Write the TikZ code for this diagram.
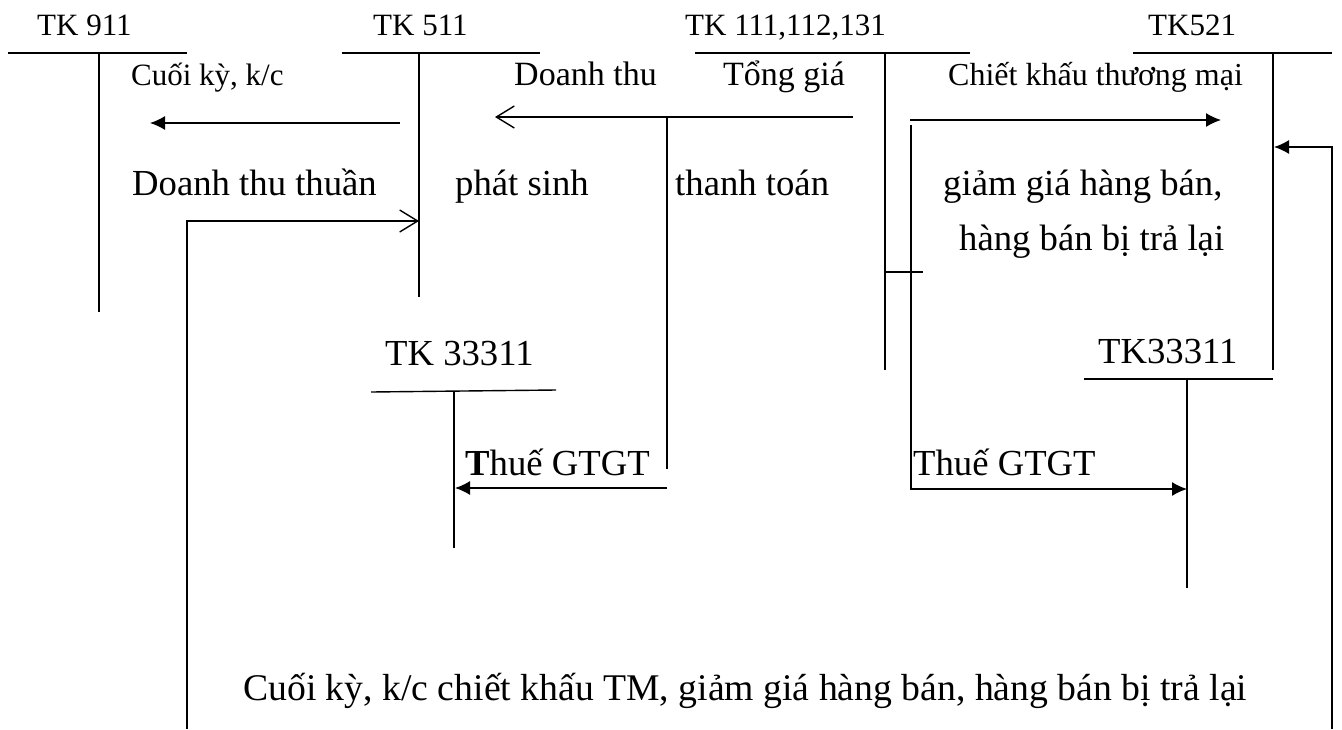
\documentclass[tikz,border=0pt]{standalone}
\usepackage{fontspec}
\setmainfont{Liberation Serif}
\usetikzlibrary{arrows.meta}
\begin{document}
\begin{tikzpicture}[x=1pt,y=-1pt,
  ln/.style={line width=1.4pt},
  fa/.style={ln,-{Latex[length=15pt,width=14pt]}},
  oa/.style={ln,-{Straight Barb[length=18pt,width=22pt,line width=1.4pt]}},
  txs/.style={anchor=base west,inner sep=0pt,font=\fontsize{31}{36}\selectfont},
  txm/.style={anchor=base west,inner sep=0pt,font=\fontsize{34}{40}\selectfont},
  txl/.style={anchor=base west,inner sep=0pt,font=\fontsize{36.7}{44}\selectfont}]
\useasboundingbox (0,0) rectangle (1342,729);

% account headings
\node[txs] (h911) at (37,35) {TK 911};
\node[txs] (h511) at (373,35) {TK 511};
\node[txs] (h111) at (685,35) {TK 111,112,131};
\node[txs] (h521) at (1148,35) {TK521};
\node[txl] (h333a) at (385,365) {TK 33311};
\node[txl] (h333b) at (1098,363) {TK33311};

% T-account bars
\coordinate (a911l) at (8,53);   \coordinate (a911r) at (187,53);
\coordinate (a911t) at (99,53);  \coordinate (a911b) at (99,312);
\coordinate (a511l) at (342,53); \coordinate (a511r) at (540,53);
\coordinate (a511t) at (419,53); \coordinate (a511b) at (419,297);
\coordinate (a111l) at (695,53); \coordinate (a111r) at (970,53);
\coordinate (a111t) at (885,53); \coordinate (a111b) at (885,370);
\coordinate (a521l) at (1133,53);\coordinate (a521r) at (1332,53);
\coordinate (a521t) at (1273,53);\coordinate (a521b) at (1273,370);
\coordinate (ava l) at (371,392);\coordinate (ava r) at (556,390);
\coordinate (avat) at (454,391); \coordinate (avab) at (454,548);
\coordinate (avb l) at (1084,379);\coordinate (avb r) at (1273,379);
\coordinate (avbt) at (1187,379);\coordinate (avbb) at (1187,588);

\foreach \a/\b in {a911l/a911r,a911t/a911b,a511l/a511r,a511t/a511b,
                   a111l/a111r,a111t/a111b,a521l/a521r,a521t/a521b,
                   ava l/ava r,avat/avab,avb l/avb r,avbt/avbb}
  \draw[ln] (\a) -- (\b);

% entries
\coordinate (k1s) at (400,123); \coordinate (k1e) at (150,123);
\draw[fa] (k1s) -- (k1e);
\node[txs] (t1) at (131,85) {Cuối kỳ, k/c};
\node[txl] (t2) at (132,195) {Doanh thu thuần};

\coordinate (k2s) at (187,729); \coordinate (k2e) at (419,221);
\draw[oa] (k2s) |- (k2e);

\coordinate (k3s) at (853,117); \coordinate (k3e) at (495,117);
\draw[oa] (k3s) -- (k3e);
\node[txm] (t3) at (514,85) {Doanh thu};
\node[txm] (t4) at (723,85) {Tổng giá};
\node[txl] (t5) at (455,195) {phát sinh};
\node[txl] (t6) at (675,195) {thanh toán};

\coordinate (v3t) at (667,117); \coordinate (v3b) at (667,469);
\draw[ln] (v3t) -- (v3b);
\coordinate (k4s) at (667,488); \coordinate (k4e) at (455,488);
\draw[fa] (k4s) -- (k4e);
\node[txl] (t7) at (465,475) {\textbf{T}huế GTGT};

\coordinate (k5s) at (910,120); \coordinate (k5e) at (1221,120);
\draw[fa] (k5s) -- (k5e);
\node[txs,font=\fontsize{32}{38}\selectfont] (t8) at (948,85) {Chiết khấu thương mại};
\node[txl] (t9) at (943,195) {giảm giá hàng bán,};
\node[txl] (t10) at (959,250) {hàng bán bị trả lại};

\coordinate (tk1) at (885,272); \coordinate (tk2) at (923,272);
\draw[ln] (tk1) -- (tk2);
\coordinate (k6s) at (911,125); \coordinate (k6e) at (1187,489);
\draw[fa] (k6s) |- (k6e);
\node[txl] (t11) at (913,475) {Thuế GTGT};

\coordinate (k7s) at (1332,729); \coordinate (k7e) at (1274,147);
\draw[fa] (k7s) |- (k7e);
\node[txl,font=\fontsize{37.7}{45}\selectfont] (t12) at (243,700) {Cuối kỳ, k/c chiết khấu TM, giảm giá hàng bán, hàng bán bị trả lại};
\end{tikzpicture}
\end{document}
